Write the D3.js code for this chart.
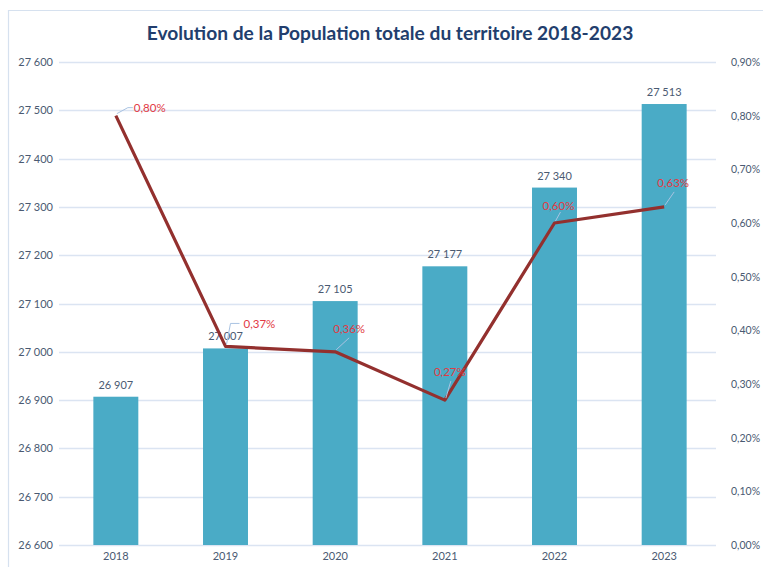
<!DOCTYPE html>
<html>
<head>
<meta charset="utf-8">
<script src="https://cdn.jsdelivr.net/npm/d3@7"></script>
<style>
  html, body { margin: 0; padding: 0; background: #ffffff; }
  svg { display: block; font-family: Lato, "Open Sans", sans-serif; }
</style>
</head>
<body>
<svg id="chart" width="763" height="567"></svg>
<script>
// Population totale par année et taux d'évolution annuel (%)
const years = ["2018", "2019", "2020", "2021", "2022", "2023"];
const population = [26907, 27007, 27105, 27177, 27340, 27513];
const growthRate = [0.80, 0.37, 0.36, 0.27, 0.60, 0.63];
const popTicks = [26600, 26700, 26800, 26900, 27000, 27100, 27200, 27300, 27400, 27500, 27600];
const rateTicks = [0, 0.1, 0.2, 0.3, 0.4, 0.5, 0.6, 0.7, 0.8, 0.9];

// Placement of the rate labels relative to their point: leader end and text anchor
const rateLabelLayout = [
  { lx: 12, ly: -8, hx: 17, tx: 18, ty: -8, anchor: "start" },
  { lx: 5, ly: -23, hx: 14, tx: 18, ty: -22, anchor: "start" },
  { lx: 14, ly: -14, hx: 14, tx: 14, ty: -23, anchor: "middle" },
  { lx: 6, ly: -19, hx: 6, tx: 5, ty: -28, anchor: "middle" },
  { lx: 6, ly: -11, hx: 6, tx: 4, ty: -17, anchor: "middle" },
  { lx: 10, ly: -15, hx: 10, tx: 9, ty: -24, anchor: "middle" }
];

const svg = d3.select("#chart");
const W = 763, H = 567;
const plot = { left: 61, right: 719, top: 62, bottom: 545 };

const fmtPop = d => d3.format(",")(d).replace(/,/g, " ");
const fmtPct = d => d.toFixed(2).replace(".", ",") + "%";

// Outer chart frame
svg.append("path")
  .attr("d", `M8.5,${H} V10.5 H${W}`)
  .attr("fill", "none")
  .attr("stroke", "#d6e1ef")
  .attr("stroke-width", 1.2);

// Title
svg.append("text")
  .attr("x", 390)
  .attr("y", 40)
  .attr("text-anchor", "middle")
  .attr("font-size", 19.2)
  .attr("font-weight", 700)
  .attr("fill", "#223e6d")
  .text("Evolution de la Population totale du territoire 2018-2023");

const x = d3.scaleBand().domain(years).range([plot.left, plot.right]).paddingInner(0.59).paddingOuter(0.295);
const yPop = d3.scaleLinear().domain([26600, 27600]).range([plot.bottom, plot.top]);
const yRate = d3.scaleLinear().domain([0, 0.9]).range([plot.bottom, plot.top]);

// Gridlines
svg.append("g")
  .selectAll("line")
  .data(popTicks)
  .join("line")
  .attr("x1", plot.left - 2)
  .attr("x2", 716)
  .attr("y1", d => Math.round(yPop(d)) + 0.5)
  .attr("y2", d => Math.round(yPop(d)) + 0.5)
  .attr("stroke", "#dbe4f2")
  .attr("stroke-width", 1.3);

// Left axis (population)
const leftAxis = svg.append("g")
  .attr("transform", `translate(${plot.left - 8},0)`)
  .call(d3.axisLeft(yPop).tickValues(popTicks).tickFormat(fmtPop).tickSize(0).tickPadding(0));
leftAxis.select(".domain").remove();
leftAxis.selectAll("text")
  .attr("font-family", "Lato, 'Open Sans', sans-serif")
  .attr("font-size", 11)
  .attr("fill", "#4a5a72");

// Right axis (rate)
const rightAxis = svg.append("g")
  .attr("transform", `translate(731,0)`)
  .call(d3.axisRight(yRate).tickValues(rateTicks).tickFormat(fmtPct).tickSize(0).tickPadding(0));
rightAxis.select(".domain").remove();
rightAxis.selectAll("text")
  .attr("font-family", "Lato, 'Open Sans', sans-serif")
  .attr("font-size", 10.5)
  .attr("fill", "#4a5a72");

// Bottom axis (years)
const bottomAxis = svg.append("g")
  .attr("transform", `translate(0,${plot.bottom + 3})`)
  .call(d3.axisBottom(x).tickSize(0).tickPadding(4));
bottomAxis.select(".domain").remove();
bottomAxis.selectAll("text")
  .attr("font-family", "Lato, 'Open Sans', sans-serif")
  .attr("font-size", 11)
  .attr("fill", "#4a5a72");

// Population bars
svg.append("g")
  .selectAll("rect")
  .data(years)
  .join("rect")
  .attr("x", d => x(d))
  .attr("width", x.bandwidth())
  .attr("y", (d, i) => yPop(population[i]))
  .attr("height", (d, i) => plot.bottom - yPop(population[i]))
  .attr("fill", "#4aabc6");

// Bar value labels
svg.append("g")
  .selectAll("text")
  .data(years)
  .join("text")
  .attr("x", d => x(d) + x.bandwidth() / 2)
  .attr("y", (d, i) => yPop(population[i]) - 8)
  .attr("text-anchor", "middle")
  .attr("font-size", 11)
  .attr("fill", "#4a5a72")
  .text((d, i) => fmtPop(population[i]));

// Growth rate line
const pts = years.map((d, i) => [x(d) + x.bandwidth() / 2, yRate(growthRate[i])]);
svg.append("path")
  .datum(pts)
  .attr("d", d3.line())
  .attr("fill", "none")
  .attr("stroke", "#93302e")
  .attr("stroke-width", 3.2)
  .attr("stroke-linejoin", "round");

// Rate labels with leader lines
const lab = svg.append("g");
pts.forEach((p, i) => {
  const L = rateLabelLayout[i];
  lab.append("path")
    .attr("d", `M${p[0] + 1},${p[1] - 2} L${p[0] + L.lx},${p[1] + L.ly} L${p[0] + L.hx},${p[1] + L.ly}`)
    .attr("fill", "none")
    .attr("stroke", "#a9c3e2")
    .attr("stroke-width", 1);
  lab.append("text")
    .attr("x", p[0] + L.tx)
    .attr("y", p[1] + L.ty)
    .attr("dy", "0.35em")
    .attr("text-anchor", L.anchor)
    .attr("font-size", 11.5)
    .attr("fill", "#e23a44")
    .text(fmtPct(growthRate[i]));
});
</script>
</body>
</html>
